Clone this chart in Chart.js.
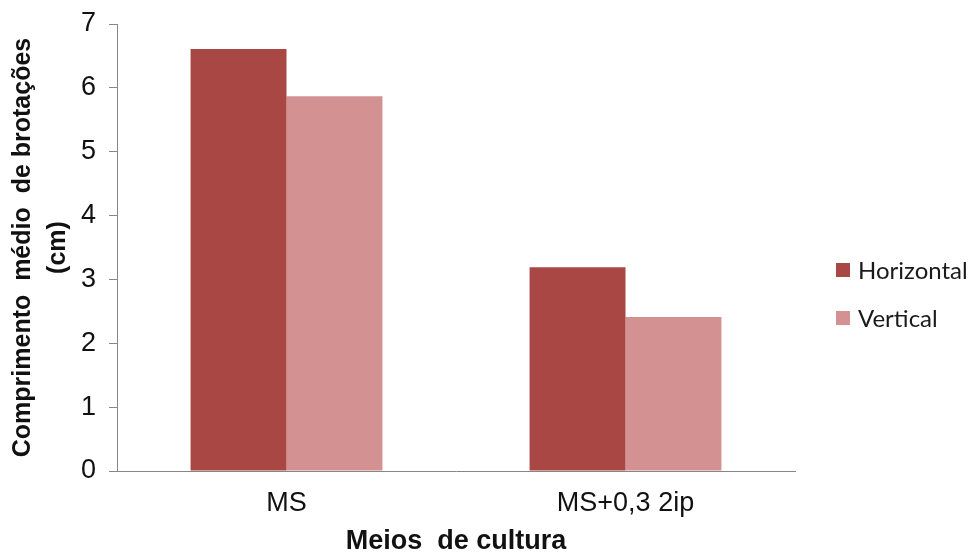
<!DOCTYPE html>
<html>
<head>
<meta charset="utf-8">
<script src="https://cdn.jsdelivr.net/npm/chart.js@4.4.1/dist/chart.umd.min.js"></script>
<style>
  html, body { margin: 0; padding: 0; background: #fff; }
  #wrap { width: 971px; height: 555px; }
</style>
</head>
<body>
<div id="wrap"><canvas id="myChart" width="971" height="555"></canvas></div>
<script>
// culture media on the x axis
var categories = ['MS', 'MS+0,3 2ip'];
// mean shoot length (cm) per explant position
var horizontalValues = [6.61, 3.19];
var verticalValues = [5.87, 2.41];
var yTicks = [0, 1, 2, 3, 4, 5, 6, 7];

var axisGray = '#868686';
var arial = '"Liberation Sans", Arial, sans-serif';

// simple legend on the right, drawn after the chart
var sideLegend = {
  id: 'sideLegend',
  afterDraw: function(chart) {
    var ctx = chart.ctx;
    var ys = [270, 318];
    ctx.save();
    ctx.font = '24px Lato, "Open Sans", sans-serif';
    ctx.textBaseline = 'middle';
    chart.data.datasets.forEach(function(ds, i) {
      ctx.fillStyle = ds.backgroundColor;
      ctx.fillRect(836, ys[i] - 7, 14, 14);
      ctx.fillStyle = '#1a1a1a';
      ctx.fillText(ds.label, 858, ys[i] + 1);
    });
    ctx.restore();
  }
};

var ctx = document.getElementById('myChart').getContext('2d');
var chart = new Chart(ctx, {
  type: 'bar',
  data: {
    labels: categories,
    datasets: [{
      label: 'Horizontal',
      backgroundColor: '#A94745',
      data: horizontalValues
    }, {
      label: 'Vertical',
      backgroundColor: '#D49191',
      data: verticalValues
    }]
  },
  options: {
    responsive: false,
    animation: false,
    layout: { padding: { left: 6, top: 24, right: 176, bottom: 0 } },
    categoryPercentage: 0.566,
    barPercentage: 1.0,
    plugins: {
      legend: { display: false },
      tooltip: { enabled: false }
    },
    scales: {
      x: {
        grid: { display: false, drawTicks: false },
        border: { color: axisGray, width: 1 },
        ticks: {
          color: '#111',
          padding: 16,
          font: { family: arial, size: 27 }
        },
        title: {
          display: true,
          text: 'Meios  de cultura',
          color: '#111',
          padding: 0,
          font: { family: arial, size: 27, weight: 'bold', lineHeight: 1.0 }
        },
        afterFit: function(scale) {
          scale.height = 84;
          scale.paddingLeft = 0;
          scale.paddingRight = 0;
        }
      },
      y: {
        min: 0,
        max: 7,
        afterBuildTicks: function(scale) {
          scale.ticks = yTicks.map(function(v) { return { value: v }; });
        },
        grid: { drawOnChartArea: false, tickLength: 8, color: axisGray },
        border: { color: axisGray, width: 1 },
        ticks: {
          color: '#111',
          padding: 13,
          font: { family: arial, size: 27 }
        },
        title: {
          display: true,
          text: ['Comprimento  médio  de brotações', '(cm)'],
          color: '#111',
          padding: { top: 0, bottom: 0 },
          font: { family: arial, size: 25, weight: 'bold', lineHeight: 1.4 }
        },
        afterFit: function(scale) {
          scale.width = 111;
          scale.paddingTop = 0;
          scale.paddingBottom = 0;
        }
      }
    }
  },
  plugins: [sideLegend]
});
</script>
</body>
</html>
